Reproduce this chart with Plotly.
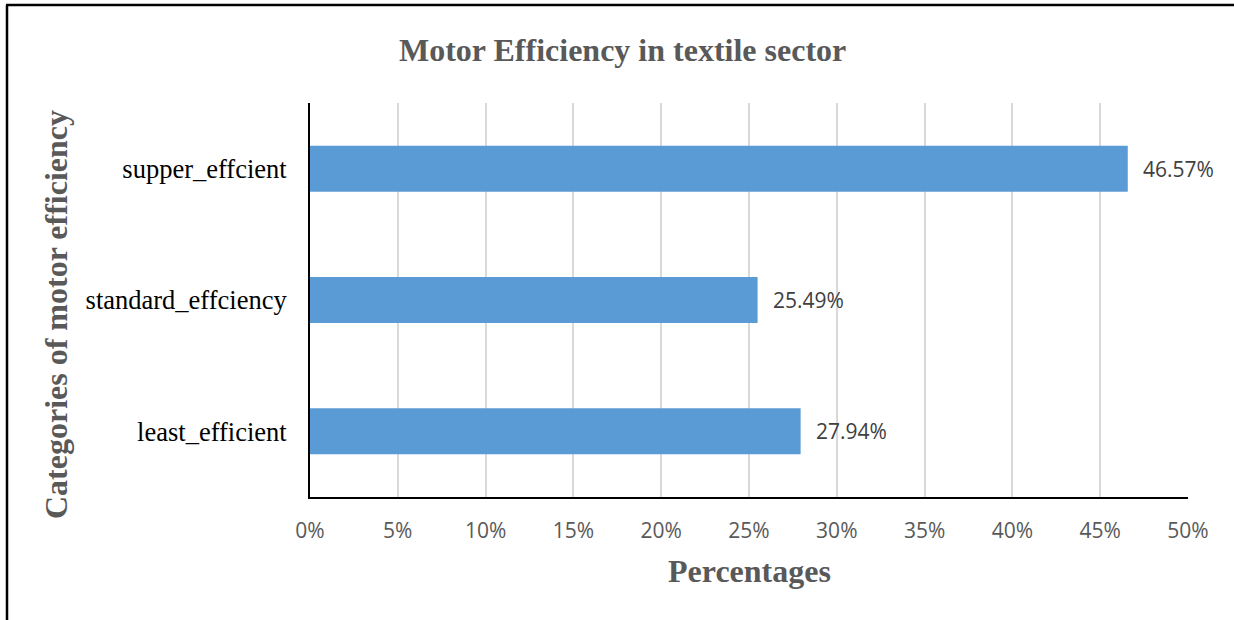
import plotly.graph_objects as go

categories = ["supper_effcient", "standard_effciency", "least_efficient"]
values = [0.4657, 0.2549, 0.2794]
labels = ["46.57%", "25.49%", "27.94%"]
tick_vals = [0, 0.05, 0.10, 0.15, 0.20, 0.25, 0.30, 0.35, 0.40, 0.45, 0.50]
tick_text = ["0%", "5%", "10%", "15%", "20%", "25%", "30%", "35%", "40%", "45%", "50%"]

W, H = 1234, 620
L, R, T, B = 310, 46, 103, 123
pw, ph = W - L - R, H - T - B

def px(x):
    return (x - L) / pw

def py(y):
    return (H - B - y) / ph

fig = go.Figure()
fig.add_trace(go.Bar(
    x=values, y=categories, orientation="h",
    marker=dict(color="#5B9BD5", line=dict(width=0)),
    width=0.35, hoverinfo="skip",
))

annotations = []
for c, v, t in zip(categories, values, labels):
    annotations.append(dict(x=v, y=c, xref="x", yref="y", text=t, showarrow=False,
                            xanchor="left", yanchor="middle", xshift=13,
                            font=dict(family="Open Sans", size=21, color="#404040")))

annotations.append(dict(x=px(622), y=py(50), xref="paper", yref="paper",
                        text="<b>Motor Efficiency in textile sector</b>", showarrow=False,
                        xanchor="center", yanchor="middle",
                        font=dict(family="Liberation Serif", size=32, color="#595959")))
annotations.append(dict(x=px(749), y=py(571), xref="paper", yref="paper",
                        text="<b>Percentages</b>", showarrow=False,
                        xanchor="center", yanchor="middle",
                        font=dict(family="Liberation Serif", size=32, color="#595959")))
annotations.append(dict(x=px(56), y=py(315), xref="paper", yref="paper",
                        text="<b>Categories of motor efficiency</b>", showarrow=False,
                        xanchor="center", yanchor="middle", textangle=-90,
                        font=dict(family="Liberation Serif", size=32, color="#595959")))

shapes = [
    dict(type="line", xref="paper", yref="paper", x0=px(7), x1=px(7), y0=py(5), y1=py(625),
         line=dict(color="black", width=2.5)),
    dict(type="line", xref="paper", yref="paper", x0=px(6), x1=px(1240), y0=py(5), y1=py(5),
         line=dict(color="black", width=2.5)),
]

fig.update_layout(
    width=W, height=H,
    margin=dict(l=L, r=R, t=T, b=B, pad=0),
    paper_bgcolor="white", plot_bgcolor="white",
    showlegend=False,
    annotations=annotations,
    shapes=shapes,
    bargap=0.65,
)
fig.update_xaxes(
    range=[0, 0.5], tickvals=tick_vals, ticktext=tick_text,
    showgrid=True, gridcolor="#D9D9D9", gridwidth=2,
    showline=True, linecolor="black", linewidth=2,
    zeroline=False, ticks="", ticklabelstandoff=14,
    tickfont=dict(family="Open Sans", size=21, color="#595959"),
    fixedrange=True,
)
fig.update_yaxes(
    autorange="reversed", categoryorder="array", categoryarray=categories,
    showgrid=False, showline=True, linecolor="black", linewidth=2,
    ticks="", ticklabelstandoff=16,
    tickfont=dict(family="Liberation Serif", size=26.5, color="black"),
    fixedrange=True,
)

fig.write_html("out.html")
